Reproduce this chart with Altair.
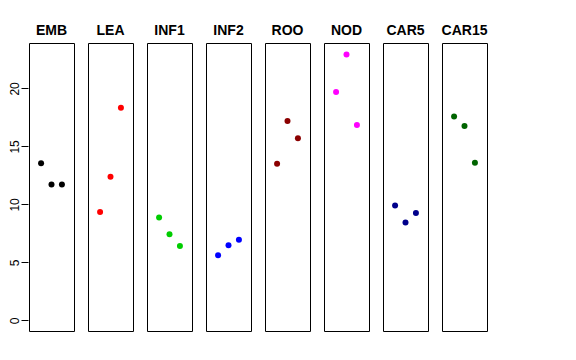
import altair as alt
import pandas as pd

panels = ["EMB", "LEA", "INF1", "INF2", "ROO", "NOD", "CAR5", "CAR15"]
colors = ["#000000", "#FF0000", "#00CD00", "#0000FF", "#8B0000", "#FF00FF", "#00008B", "#006400"]
positions = [1, 2, 3]
values = {
    "EMB": [13.55, 11.72, 11.72],
    "LEA": [9.34, 12.38, 18.34],
    "INF1": [8.86, 7.42, 6.41],
    "INF2": [5.61, 6.47, 6.96],
    "ROO": [13.5, 17.2, 15.7],
    "NOD": [19.69, 22.92, 16.85],
    "CAR5": [9.91, 8.43, 9.25],
    "CAR15": [17.57, 16.77, 13.59],
}
y_ticks = [0, 5, 10, 15, 20]

rows = []
for p in panels:
    for x, v in zip(positions, values[p]):
        rows.append({"panel": p, "x": x, "value": v})
df = pd.DataFrame(rows)

FONT = "Liberation Sans"

base = alt.Chart(df).mark_point(filled=True, size=36, opacity=1).encode(
    x=alt.X("x:Q", scale=alt.Scale(domain=[-0.16, 4.16], nice=False, zero=False), axis=None),
    y=alt.Y(
        "value:Q",
        scale=alt.Scale(domain=[-0.92, 23.92], nice=False, zero=False),
        axis=alt.Axis(
            title=None, values=y_ticks, domain=False, grid=False, tickSize=7,
            tickColor="black", labelAngle=270, labelAlign="center", labelBaseline="bottom",
            labelPadding=0, labelFont=FONT, labelFontSize=12, labelColor="black",
        ),
    ),
    color=alt.Color("panel:N", scale=alt.Scale(domain=panels, range=colors), legend=None),
).properties(width=45, height=288)

chart = base.facet(
    column=alt.Column(
        "panel:N", sort=panels,
        header=alt.Header(title=None, labelFont=FONT, labelFontSize=14, labelFontWeight="bold",
                          labelColor="black", labelPadding=4),
    ),
    spacing=12,
).configure_view(stroke="black", strokeWidth=1).properties(
    padding={"left": 0, "top": 16, "right": 5, "bottom": 5}
)

chart.save("out.html", embed_options={"renderer": "svg", "actions": False})
